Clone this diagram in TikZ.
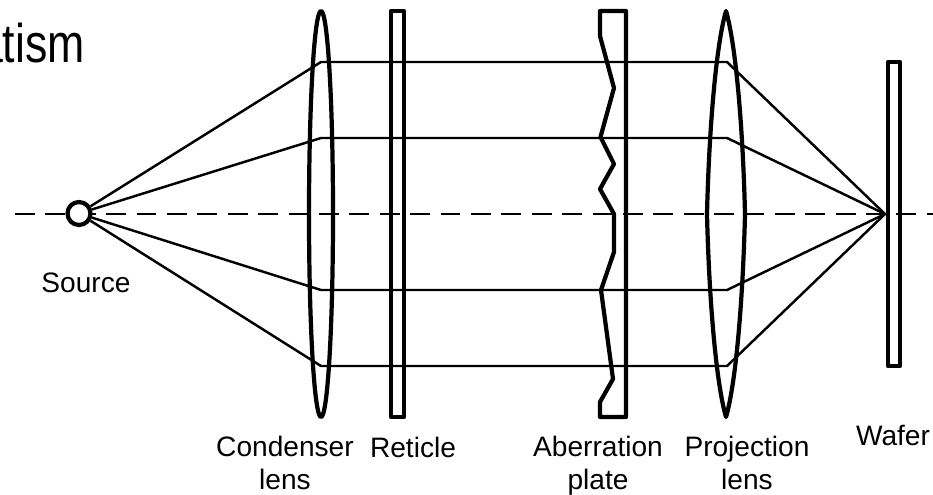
\documentclass[tikz,border=0pt]{standalone}
\usepackage{fontspec}
\setmainfont{Liberation Sans}
\tikzset{
  part/.style={line width=2.4pt, line join=round},
  ray/.style={line width=1.4pt, line join=round},
  axis/.style={line width=1.5pt, dash pattern=on 11.3pt off 6pt},
  tag/.style={align=center, inner sep=0pt, font=\fontsize{16}{18.7}\selectfont},
}
\begin{document}
\begin{tikzpicture}[x=0.02cm,y=-0.02cm]
    \useasboundingbox (0,0) rectangle (933,494);

    % Resto del titolo tagliato dal bordo
    \node[anchor=base east, inner sep=0pt, xscale=0.82, font=\fontsize{31}{31}\selectfont] (title) at (85,62) {atism};

    % Asse ottico tratteggiato
    \coordinate (axisstart) at (15,214);
    \coordinate (axisend) at (933,214);
    \draw[axis] (axisstart) -- (axisend);

    % Sorgente e punto sul wafer
    \node[circle, draw, fill=white, line width=2.4pt, minimum size=0.46cm, inner sep=0pt] (source) at (79,213.5) {};
    \coordinate (focus) at (885,214);

    % Lente condensatrice
    \draw[part] (321,214) ellipse (12 and 203);

    % Reticolo
    \draw[part] (391,11) rectangle (404,417);

    % Lastra di aberrazione
    \draw[part] (600,11) -- (600,36) -- (614,88) -- (600.5,137) -- (614,164) -- (600,189) -- (614,214)
      -- (614,252) -- (601,290) -- (613,379) -- (600,402) -- (600,417) -- (626,417) -- (626,11) -- cycle;

    % Lente di proiezione
    \draw[part] (726,11) .. controls (716,45) and (709,130) .. (707,214) .. controls (709,298) and (716,383) .. (726,417)
      .. controls (736,383) and (743,298) .. (745,214) .. controls (743,130) and (736,45) .. (726,11) -- cycle;

    % Wafer
    \draw[part] (888,62) rectangle (900,366);

    % Raggi
    \foreach \rayname/\rayy in {a/62,b/138,c/290,d/366}{
      \coordinate (cond\rayname) at (321,\rayy);
      \coordinate (proj\rayname) at (727,\rayy);
      \draw[ray] (source) -- (cond\rayname) -- (proj\rayname) -- (focus);
    }

    % Etichette
    \node[tag] (sourcetag) at (86,283) {Source};
    \node[tag] (condtag) at (285,463) {Condenser\\lens};
    \node[tag] (rettag) at (413,447) {Reticle};
    \node[tag] (abtag) at (598,466) {Aberration\\plate};
    \node[tag] (projtag) at (747,463) {Projection\\lens};
    \node[tag] (wafertag) at (893,435) {Wafer};
\end{tikzpicture}
\end{document}
